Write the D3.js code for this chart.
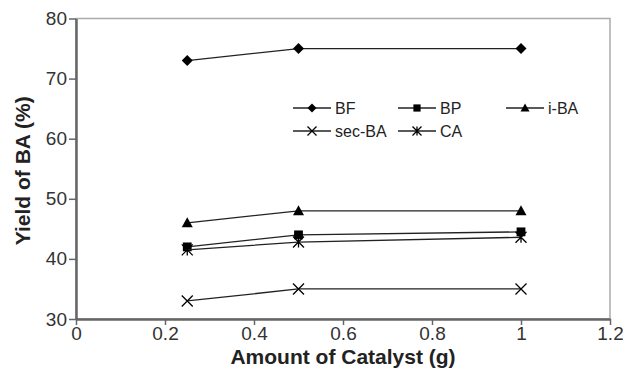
<!DOCTYPE html>
<html>
<head>
<meta charset="utf-8">
<script src="https://cdn.jsdelivr.net/npm/d3@7"></script>
<style>
  body { margin: 0; background: #fff; }
  text { font-family: "Liberation Sans", Arial, sans-serif; }
</style>
</head>
<body>
<div class="chart"></div>
<script>
const catalyst = [0.25, 0.5, 1];
const bf = [73, 75, 75];
const bp = [42, 44, 44.5];
const iba = [46, 48, 48];
const secba = [33, 35, 35];
const ca = [41.5, 42.8, 43.6];
const xTicks = [0, 0.2, 0.4, 0.6, 0.8, 1, 1.2];
const yTicks = [30, 40, 50, 60, 70, 80];

const series = [
  { name: "BF", values: bf, sym: "diamond" },
  { name: "BP", values: bp, sym: "square" },
  { name: "i-BA", values: iba, sym: "triangle" },
  { name: "sec-BA", values: secba, sym: "x" },
  { name: "CA", values: ca, sym: "star" }
];

const width = 623, height = 371;
const margin = ({ top: 18.5, right: 13, bottom: 52, left: 76 });

var svg = d3.select(".chart").append("svg")
    .attr("width", width)
    .attr("height", height);

var x = d3.scaleLinear().domain([0, 1.2]).range([margin.left, width - margin.right]);
var y = d3.scaleLinear().domain([30, 80]).range([height - margin.bottom, margin.top]);

// frame (light top/right)
svg.append("rect")
    .attr("x", x(0)).attr("y", y(80))
    .attr("width", x(1.2) - x(0)).attr("height", y(30) - y(80))
    .attr("fill", "none").attr("stroke", "#aaa").attr("stroke-width", 1.5);

var xAxis = svg.append("g")
    .attr("transform", `translate(0, ${y(30)})`)
    .call(d3.axisBottom(x).tickValues(xTicks).tickSize(6).tickPadding(2).tickSizeOuter(0)
        .tickFormat(d => d3.format("")(d)));
var yAxis = svg.append("g")
    .attr("transform", `translate(${x(0)}, 0)`)
    .call(d3.axisLeft(y).tickValues(yTicks).tickSize(7).tickPadding(2).tickSizeOuter(0));

[xAxis, yAxis].forEach(a => {
    a.select(".domain").attr("stroke", "#666").attr("stroke-width", 2.5);
    a.selectAll(".tick line").attr("stroke", "#666").attr("stroke-width", 1.5);
    a.selectAll("text").attr("font-size", 19).attr("fill", "#333")
        .style("font-family", "'Liberation Sans', Arial, sans-serif");
});

svg.append("text")
    .attr("x", x(0.6)).attr("y", 364)
    .attr("text-anchor", "middle")
    .attr("font-size", 21).attr("font-weight", "bold").attr("fill", "#222")
    .text("Amount of Catalyst (g)");

svg.append("text")
    .attr("transform", `translate(30, ${y(55) + 2}) rotate(-90)`)
    .attr("text-anchor", "middle")
    .attr("font-size", 21).attr("font-weight", "bold").attr("fill", "#222")
    .text("Yield of BA (%)");

function drawMarker(g, sym, cx, cy, s) {
    if (sym === "diamond") {
        g.append("path").attr("d", `M${cx},${cy - s}L${cx + s},${cy}L${cx},${cy + s}L${cx - s},${cy}Z`).attr("fill", "#000");
    } else if (sym === "square") {
        g.append("rect").attr("x", cx - s * 0.8).attr("y", cy - s * 0.8)
            .attr("width", s * 1.6).attr("height", s * 1.6).attr("fill", "#000");
    } else if (sym === "triangle") {
        g.append("path").attr("d", `M${cx},${cy - s}L${cx + s},${cy + s * 0.8}L${cx - s},${cy + s * 0.8}Z`).attr("fill", "#000");
    } else if (sym === "x") {
        g.append("path").attr("d", `M${cx - s},${cy - s}L${cx + s},${cy + s}M${cx - s},${cy + s}L${cx + s},${cy - s}`)
            .attr("stroke", "#000").attr("stroke-width", 1.3);
    } else if (sym === "star") {
        g.append("path").attr("d", `M${cx - s},${cy - s}L${cx + s},${cy + s}M${cx - s},${cy + s}L${cx + s},${cy - s}M${cx},${cy - s}L${cx},${cy + s}`)
            .attr("stroke", "#000").attr("stroke-width", 1.3);
    }
}

var line = d3.line().x((d, i) => x(catalyst[i])).y(d => y(d));

series.forEach(s => {
    var g = svg.append("g");
    g.append("path").datum(s.values).attr("d", line)
        .attr("fill", "none").attr("stroke", "#222").attr("stroke-width", 1.3);
    s.values.forEach((v, i) => drawMarker(g, s.sym, x(catalyst[i]), y(v), 5.5));
});

// legend
var legendPos = [[293, 108], [398, 108], [506, 108], [293, 131], [398, 131]];
series.forEach((s, i) => {
    var [lx, ly] = legendPos[i];
    var g = svg.append("g");
    g.append("line").attr("x1", lx).attr("x2", lx + 38).attr("y1", ly).attr("y2", ly)
        .attr("stroke", "#222").attr("stroke-width", 1.3);
    drawMarker(g, s.sym, lx + 19, ly, 4.5);
    g.append("text").attr("x", lx + 42).attr("y", ly).attr("dy", "0.35em")
        .attr("font-size", 16).attr("fill", "#222").text(s.name);
});
</script>
</body>
</html>
